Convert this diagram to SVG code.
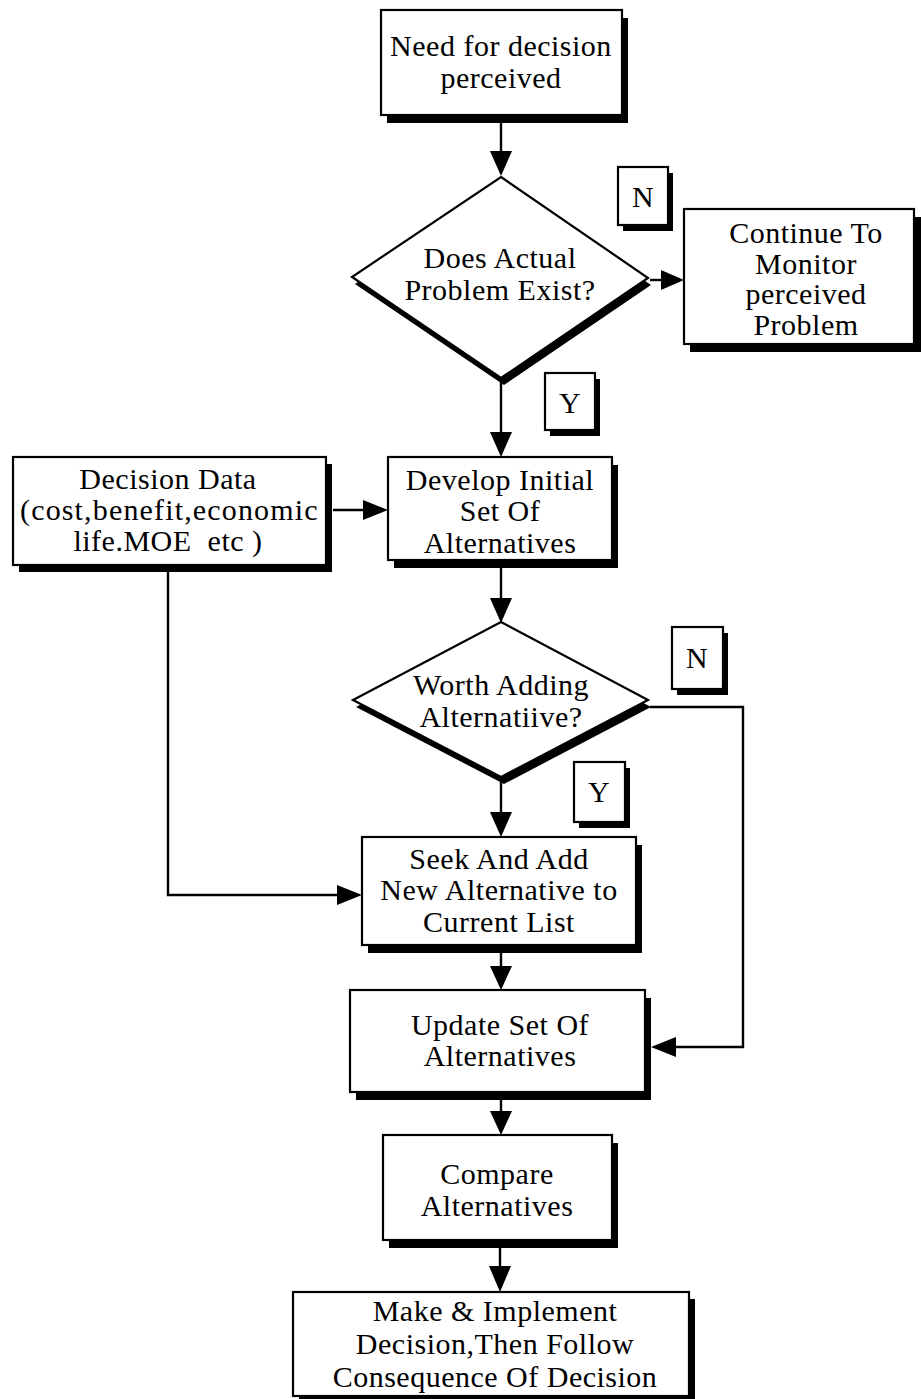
<svg xmlns="http://www.w3.org/2000/svg" width="921" height="1399" viewBox="0 0 921 1399">
<style>
.box{fill:#fff;stroke:#000;stroke-width:2.2}
.sh{fill:#000}
.t{font-family:"Liberation Serif","Times New Roman",serif;font-size:30px;letter-spacing:0.5px;fill:#000;text-anchor:middle}
.ln{fill:none;stroke:#000;stroke-width:2.4}
.ah{fill:#000}
</style>
<rect width="921" height="1399" fill="#fff"/>
<g id="connectors">
<line class="ln" x1="501" y1="115" x2="501" y2="155"/><polygon class="ah" points="490,151 512,151 501,176"/>
<line class="ln" x1="650" y1="280" x2="665" y2="280"/><polygon class="ah" points="661,270 661,290 684,280"/>
<line class="ln" x1="501" y1="380" x2="501" y2="436"/><polygon class="ah" points="490,432 512,432 501,457"/>
<line class="ln" x1="333" y1="510" x2="366" y2="510"/><polygon class="ah" points="363,500 363,520 388,510"/>
<line class="ln" x1="501" y1="568" x2="501" y2="602"/><polygon class="ah" points="490,598 512,598 501,623"/>
<line class="ln" x1="501" y1="782" x2="501" y2="816"/><polygon class="ah" points="490,812 512,812 501,837"/>
<polyline class="ln" points="168,572 168,895 340,895"/><polygon class="ah" points="337,885 337,905 362,895"/>
<polyline class="ln" points="650,707 743,707 743,1047 674,1047"/><polygon class="ah" points="676,1037 676,1057 651,1047"/>
<line class="ln" x1="501" y1="953" x2="501" y2="970"/><polygon class="ah" points="490,966 512,966 501,990"/>
<line class="ln" x1="501" y1="1100" x2="501" y2="1115"/><polygon class="ah" points="490,1111 512,1111 501,1135"/>
<line class="ln" x1="500" y1="1248" x2="500" y2="1270"/><polygon class="ah" points="489,1266 511,1266 500,1292"/>
</g>
<g id="n-need">
<rect class="sh" x="387" y="18" width="241" height="105"/>
<rect class="box" x="381" y="10" width="241" height="105"/>
<text class="t" x="501" y="56">Need for decision</text>
<text class="t" x="501" y="88">perceived</text>
</g>
<g id="n-exist">
<polygon class="sh" points="504,184 651,285 504,385 355,284"/>
<polygon class="box" points="501,177 648,278 501,378 352,277"/>
<text class="t" x="500" y="268">Does Actual</text>
<text class="t" x="500" y="300">Problem Exist?</text>
</g>
<g id="lbl-n1">
<rect class="sh" x="623" y="173" width="50" height="58"/>
<rect class="box" x="618" y="167" width="50" height="58"/>
<text class="t" x="643" y="207">N</text>
</g>
<g id="n-monitor">
<rect class="sh" x="690" y="217" width="231" height="135"/>
<rect class="box" x="684" y="209" width="230" height="135"/>
<text class="t" x="806" y="243">Continue To</text>
<text class="t" x="806" y="274">Monitor</text>
<text class="t" x="806" y="304">perceived</text>
<text class="t" x="806" y="335">Problem</text>
</g>
<g id="lbl-y1">
<rect class="sh" x="550" y="379" width="50" height="57"/>
<rect class="box" x="545" y="373" width="50" height="57"/>
<text class="t" x="570" y="413">Y</text>
</g>
<g id="n-data">
<rect class="sh" x="19" y="464" width="313" height="108"/>
<rect class="box" x="13" y="457" width="313" height="108"/>
<text class="t" x="168" y="489">Decision Data</text>
<text class="t" x="169" y="520" textLength="298" lengthAdjust="spacing">(cost,benefit,economic</text>
<text class="t" x="168" y="551">life.MOE&#160; etc )</text>
</g>
<g id="n-develop">
<rect class="sh" x="394" y="465" width="224" height="103"/>
<rect class="box" x="388" y="457" width="224" height="103"/>
<text class="t" x="500" y="490">Develop Initial</text>
<text class="t" x="500" y="521">Set Of</text>
<text class="t" x="500" y="553">Alternatives</text>
</g>
<g id="n-worth">
<polygon class="sh" points="504,629 651,707 504,784 356,707"/>
<polygon class="box" points="501,622 648,700 501,777 353,700"/>
<text class="t" x="501" y="695">Worth Adding</text>
<text class="t" x="501" y="727">Alternatiive?</text>
</g>
<g id="lbl-n2">
<rect class="sh" x="677" y="633" width="51" height="62"/>
<rect class="box" x="672" y="627" width="51" height="62"/>
<text class="t" x="697" y="668">N</text>
</g>
<g id="lbl-y2">
<rect class="sh" x="579" y="768" width="51" height="60"/>
<rect class="box" x="574" y="762" width="51" height="60"/>
<text class="t" x="599" y="802">Y</text>
</g>
<g id="n-seek">
<rect class="sh" x="368" y="845" width="274" height="108"/>
<rect class="box" x="362" y="837" width="274" height="108"/>
<text class="t" x="499" y="869">Seek And Add</text>
<text class="t" x="499" y="900">New Alternative to</text>
<text class="t" x="499" y="932">Current List</text>
</g>
<g id="n-update">
<rect class="sh" x="356" y="998" width="295" height="102"/>
<rect class="box" x="350" y="990" width="295" height="102"/>
<text class="t" x="500" y="1035">Update Set Of</text>
<text class="t" x="500" y="1066">Alternatives</text>
</g>
<g id="n-compare">
<rect class="sh" x="389" y="1143" width="229" height="105"/>
<rect class="box" x="383" y="1135" width="229" height="105"/>
<text class="t" x="497" y="1184">Compare</text>
<text class="t" x="497" y="1216">Alternatives</text>
</g>
<g id="n-make">
<rect class="sh" x="299" y="1299" width="396" height="100"/>
<rect class="box" x="293" y="1292" width="396" height="104"/>
<text class="t" x="495" y="1321">Make &amp; Implement</text>
<text class="t" x="495" y="1354">Decision,Then Follow</text>
<text class="t" x="495" y="1387">Consequence Of Decision</text>
</g>
</svg>
